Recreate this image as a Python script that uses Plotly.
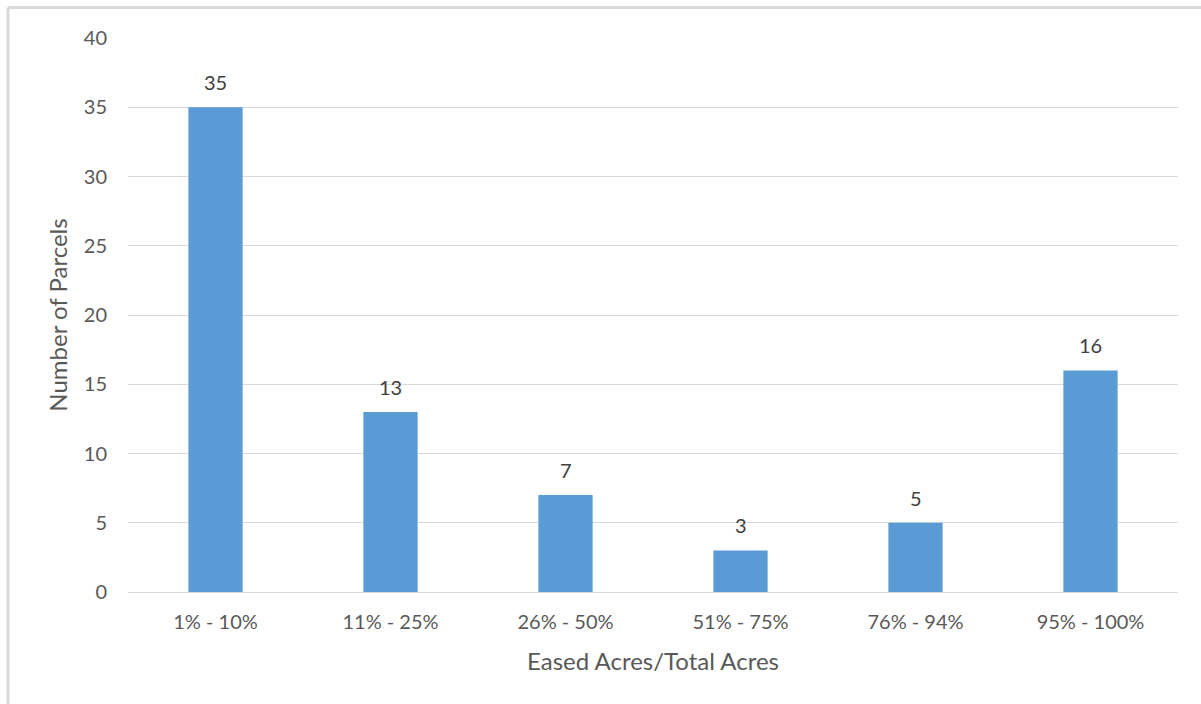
import plotly.graph_objects as go

categories = ["1% - 10%", "11% - 25%", "26% - 50%", "51% - 75%", "76% - 94%", "95% - 100%"]
parcels = [35, 13, 7, 3, 5, 16]
y_ticks = [0, 5, 10, 15, 20, 25, 30, 35, 40]

L, R, T, B = 128, 23, 38, 112
W, H = 1201, 704
pw, ph = W - L - R, H - T - B

def px(x):
    return (x - L) / pw

def py(y):
    return (H - B - y) / ph

font_fam = "Lato, 'Open Sans', sans-serif"

fig = go.Figure(go.Bar(
    x=categories, y=parcels,
    marker=dict(color="#5B9BD5", line=dict(width=0)),
    width=0.31,
))

for c, v in zip(categories, parcels):
    fig.add_annotation(x=c, y=v, text=str(v), showarrow=False,
                       yanchor="middle", yshift=25,
                       font=dict(size=20, color="#404040", family=font_fam))

fig.update_layout(
    width=W, height=H,
    margin=dict(l=L, r=R, t=T, b=B),
    paper_bgcolor="white", plot_bgcolor="white",
    font=dict(family=font_fam, color="#595959", size=20),
    showlegend=False,
    xaxis=dict(
        title=dict(text="Eased Acres/Total Acres", font=dict(size=24, color="#595959"), standoff=21),
        tickfont=dict(size=20, color="#595959"),
        showgrid=False, showline=False, ticks="", ticklabelstandoff=16,
    ),
    yaxis=dict(
        title=dict(text="Number of Parcels", font=dict(size=24, color="#595959"), standoff=9),
        range=[0, 40], tickvals=y_ticks,
        tickfont=dict(size=20, color="#595959"),
        showgrid=True, gridcolor="#d9d9d9", gridwidth=1,
        zeroline=True, zerolinecolor="#d9d9d9", zerolinewidth=1,
        showline=False, ticks="", ticklabelstandoff=20,
    ),
    shapes=[
        dict(type="line", xref="paper", yref="paper",
             x0=px(8), x1=px(1300), y0=py(7.5), y1=py(7.5),
             line=dict(color="#d9d9d9", width=3)),
        dict(type="line", xref="paper", yref="paper",
             x0=px(8), x1=px(8), y0=py(7.5), y1=py(800),
             line=dict(color="#d9d9d9", width=3)),
    ],
)

fig.write_html("out.html")
